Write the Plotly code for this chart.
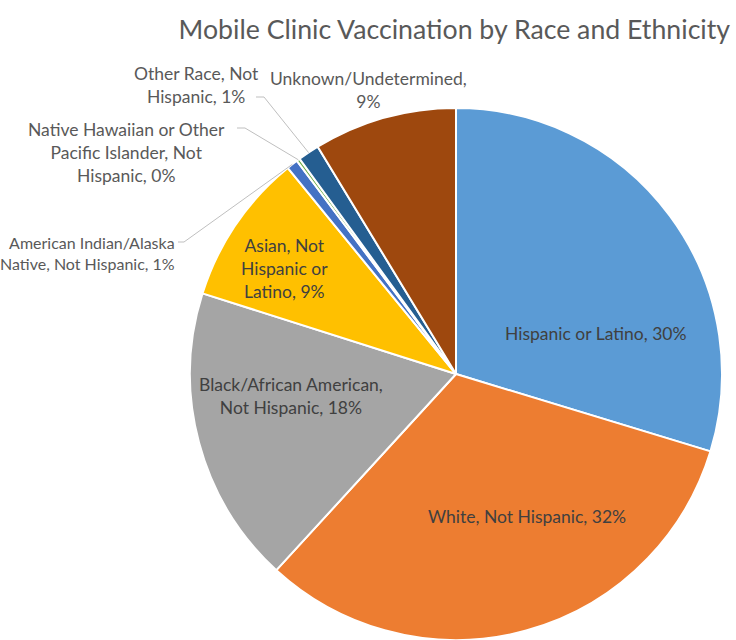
import math
import plotly.graph_objects as go

# ---- data ----
categories = [
    "Hispanic or Latino",
    "White, Not Hispanic",
    "Black/African American, Not Hispanic",
    "Asian, Not Hispanic or Latino",
    "American Indian/Alaska Native, Not Hispanic",
    "Native Hawaiian or Other Pacific Islander, Not Hispanic",
    "Other Race, Not Hispanic",
    "Unknown/Undetermined",
]
values = [29.7, 32.1, 18.1, 9.2, 0.7, 0.2, 1.3, 8.7]
pct_labels = ["30%", "32%", "18%", "9%", "1%", "0%", "1%", "9%"]
colors = ["#5B9BD5", "#ED7D31", "#A5A5A5", "#FFC000", "#4472C4", "#70AD47", "#255E91", "#9E480E"]

title_text = "Mobile Clinic Vaccination by Race and Ethnicity"

W, H = 736, 640
# pie geometry (pixels)
CX, CY, R = 456, 374, 266

fig = go.Figure()
fig.add_trace(go.Pie(
    labels=categories,
    values=values,
    sort=False,
    direction="clockwise",
    rotation=0,
    textinfo="none",
    hoverinfo="label+percent",
    marker=dict(colors=colors, line=dict(color="white", width=2)),
    domain=dict(x=[(CX - R) / W, (CX + R) / W], y=[0, (H - (CY - R)) / H]),
    showlegend=False,
))

TXT = "#404040"
OUT = "#595959"
FONT = "Lato"
FS = 17.5

def px(x, y):
    return x / W, 1 - y / H

# label texts (multi-line, Excel-like)
label_texts = [
    f"Hispanic or Latino, {pct_labels[0]}",
    f"White, Not Hispanic, {pct_labels[1]}",
    f"Black/African American,<br>Not Hispanic, {pct_labels[2]}",
    f"Asian, Not<br>Hispanic or<br>Latino, {pct_labels[3]}",
    f"American Indian/Alaska<br>Native, Not Hispanic, {pct_labels[4]}",
    f"Native Hawaiian or Other<br>Pacific Islander, Not<br>Hispanic, {pct_labels[5]}",
    f"Other Race, Not<br>Hispanic, {pct_labels[6]}",
    f"Unknown/Undetermined,<br>{pct_labels[7]}",
]
# label anchor positions in pixels: (x, y, xanchor, align, font size)
label_pos = [
    (596, 333, "center", "center", FS),
    (527, 516, "center", "center", FS),
    (291, 396, "center", "center", FS),
    (284, 268, "center", "center", FS),
    (177, 253, "right", "right", 16),
    (127, 153, "center", "center", FS),
    (196, 85, "center", "center", FS),
    (368, 90, "center", "center", FS),
]

for i, (t, (x, y, xa, al, fs)) in enumerate(zip(label_texts, label_pos)):
    ax, ay = px(x, y)
    inside = i in (0, 1, 2, 3)
    fig.add_annotation(
        x=ax, y=ay, xref="paper", yref="paper",
        text=t, showarrow=False, xanchor=xa, yanchor="middle", align=al,
        font=dict(family=FONT, size=fs, color=TXT if inside else OUT),
    )

# leader lines from small-slice labels to slice edge (slice mid-angle from data)
total = sum(values)
cum = [sum(values[:i]) for i in range(len(values))]

def edge_point(i, rfrac=1.0):
    mid = (cum[i] + values[i] / 2) / total * 2 * math.pi
    return CX + R * rfrac * math.sin(mid), CY - R * rfrac * math.cos(mid)

leader_starts = {4: [(178, 242), (184, 242)], 5: [(237, 128), (245, 128)], 6: [(256, 97), (264, 97)]}
for i, pts in leader_starts.items():
    ex, ey = edge_point(i, 1.0)
    path_pts = pts + [(ex, ey)]
    for (x0, y0), (x1, y1) in zip(path_pts[:-1], path_pts[1:]):
        a0, b0 = px(x0, y0)
        a1, b1 = px(x1, y1)
        fig.add_shape(type="line", xref="paper", yref="paper", x0=a0, y0=b0, x1=a1, y1=b1,
                      line=dict(color="#BFBFBF", width=1))

fig.update_layout(
    width=W, height=H,
    margin=dict(l=0, r=0, t=0, b=0),
    paper_bgcolor="white",
    plot_bgcolor="white",
    title=dict(text=title_text, x=0.992, xanchor="right", y=1 - 30 / H, yanchor="middle",
               font=dict(family=FONT, size=26.7, color=OUT)),
)

fig.write_html(
    "out.html",
    config={"displayModeBar": False},
    post_script="document.body.style.margin='0';document.body.style.overflow='hidden';",
)
